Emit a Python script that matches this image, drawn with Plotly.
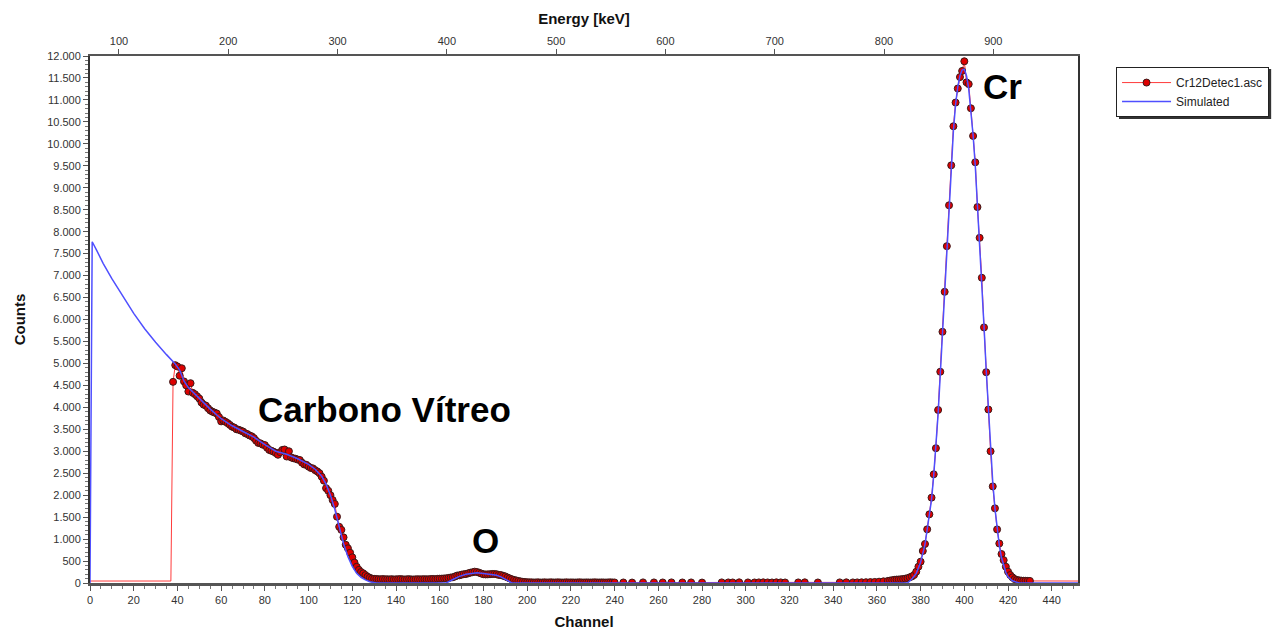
import plotly.graph_objects as go

# ---------------- data ----------------
# flat leading part of the measured spectrum (no markers drawn)
lead_channels = list(range(0, 39))
lead_counts = [45] * 38 + [4580]

# measured spectrum Cr12Detec1.asc (channels with drawn markers)
meas_channels = (
    list(range(38, 241))
    + [244, 248, 253, 258, 262, 266, 271, 275, 280, 289, 292, 294, 297, 301, 304, 306, 308,
       310, 312, 314, 316, 318, 324, 327, 333, 343, 346, 349, 351, 353, 355, 357, 359, 361, 363]
    + list(range(365, 431))
)
meas_counts = (
    # 38 - 130  (Carbono Vítreo)
    [4580, 4960, 4930, 4720, 4890, 4590, 4500, 4360, 4550, 4330,
     4300, 4250, 4200, 4110, 4060, 4040, 3980, 3930, 3900, 3880,
     3860, 3780, 3680, 3700, 3670, 3640, 3600, 3560, 3540, 3500,
     3490, 3470, 3450, 3410, 3390, 3360, 3340, 3300, 3240, 3190,
     3180, 3150, 3140, 3080, 3030, 3010, 2990, 2960, 2920, 2980,
     3030, 3040, 2880, 3000, 2860, 2840, 2830, 2810, 2800, 2740,
     2700, 2690, 2650, 2620, 2610, 2570, 2540, 2500, 2420, 2330,
     2160, 2100, 2000, 1890, 1800, 1510, 1280, 1210, 1040, 870,
     790, 690, 585, 465, 370, 300, 250, 220, 180, 145,
     120, 100, 95]
    # 131 - 162
    + [92, 88, 85, 90, 84, 86, 82, 88, 80, 84,
       86, 90, 83, 81, 85, 88, 82, 80, 84, 86,
       83, 85, 88, 84, 86, 90, 92, 88, 95, 98,
       100, 104]
    # 163 - 200  (O)
    + [106, 115, 125, 130, 150, 170, 175, 190, 200, 205,
       220, 235, 245, 258, 250, 235, 215, 200, 195, 197,
       200, 205, 205, 200, 185, 180, 165, 150, 125, 105,
       85, 70, 58, 46, 36, 28, 22, 18]
    # 201 - 240
    + [16, 15, 12, 14, 16, 11, 13, 15, 12, 14,
       16, 12, 13, 15, 14, 11, 13, 15, 12, 14,
       13, 11, 14, 15, 13, 12, 14, 13, 11, 14,
       15, 13, 12, 14, 13, 11, 14, 15, 13, 12]
    # sparse baseline 244 - 363
    + [12, 10, 14, 13, 12, 14, 12, 13, 10, 14, 13, 12, 15, 13, 12, 14, 15,
       13, 12, 15, 14, 12, 13, 15, 12, 14, 15, 13, 14, 16, 18, 20, 24, 30, 38]
    # 365 - 430  (Cr)
    + [48, 56, 64, 72, 78, 80, 85, 90, 99, 110,
       129, 150, 182, 258, 372, 486, 729, 888, 1222, 1564,
       1943, 2475, 3070, 3940, 4810, 5720, 6630, 7670, 8600, 9510,
       10400, 10940, 11260, 11520, 11660, 11880, 11400, 11360, 10810, 10180,
       9580, 8560, 7860, 6950, 5820, 4800, 3950, 3000, 2200, 1700,
       1220, 900, 660, 520, 372, 258, 182, 129, 90, 70,
       60, 55, 52, 50, 48, 47]
)

# trailing flat part of the measured spectrum (line only)
tail_channels = [430, 452]
tail_counts = [47, 45]

# simulated spectrum
sim_channels = [0, 1, 3, 6, 10, 15, 20, 25, 30, 35, 38, 39, 41, 43, 45, 48, 50, 55, 60, 65,
                70, 75, 80, 85, 90, 95, 100, 103, 106, 108, 110, 112, 114, 116, 118, 120,
                122, 124, 126, 128, 131, 163, 166, 169, 172, 175, 177, 180, 183, 186, 188,
                190, 192, 193, 374, 376, 378, 380, 382, 384, 385, 386, 387, 388, 389, 390,
                391, 392, 393, 394, 395, 396, 397, 398, 399, 400, 401, 402, 403, 404, 405,
                406, 407, 408, 409, 410, 411, 412, 413, 414, 415, 416, 417, 418, 419, 420,
                422, 425, 452]
sim_counts = [0, 7770, 7580, 7280, 6930, 6540, 6140, 5790, 5480, 5200, 5040, 4990, 4850,
              4600, 4450, 4300, 4200, 3960, 3740, 3580, 3450, 3320, 3150, 3000, 2930, 2830,
              2700, 2590, 2430, 2250, 2000, 1680, 1280, 900, 600, 380, 220, 130, 70, 30, 0,
              0, 80, 150, 200, 230, 235, 215, 195, 175, 140, 80, 20, 0,
              0, 90, 220, 470, 880, 1500, 1900, 2450, 3050, 3850, 4750, 5700, 6650, 7650,
              8600, 9500, 10300, 10900, 11300, 11550, 11680, 11700, 11550, 11250, 10800,
              10200, 9500, 8650, 7800, 6850, 5850, 4850, 3900, 3050, 2300, 1700, 1220, 850,
              580, 380, 240, 140, 50, 0, 0]

# axis settings
channel_range = [0, 452]
energy_range = [73.5, 977.5]   # keV, E = 73.5 + 2.0 * channel
count_range = [0, 12000]

FONT = "Liberation Sans, Arial, sans-serif"

fig = go.Figure()

fig.add_trace(go.Scatter(
    x=lead_channels, y=lead_counts, mode="lines",
    line=dict(color="#ff3b3b", width=1), showlegend=False, hoverinfo="skip"))
fig.add_trace(go.Scatter(
    x=tail_channels, y=tail_counts, mode="lines",
    line=dict(color="#ff3b3b", width=1), showlegend=False, hoverinfo="skip"))
fig.add_trace(go.Scatter(
    x=meas_channels, y=meas_counts, mode="lines+markers", name="Cr12Detec1.asc",
    line=dict(color="#ff3b3b", width=1),
    marker=dict(color="#dd0000", size=7, line=dict(color="#3a1a1a", width=1))))
fig.add_trace(go.Scatter(
    x=sim_channels, y=sim_counts, mode="lines", name="Simulated",
    line=dict(color="#4f4fff", width=1.5)))

tickfont = dict(family=FONT, size=11, color="#333333")

fig.update_layout(
    width=1279, height=632,
    margin=dict(l=90, r=201, t=56, b=49, pad=0, autoexpand=False),
    paper_bgcolor="white", plot_bgcolor="white",
    separators=",.",
    font=dict(family=FONT, color="#111111"),
    xaxis=dict(
        range=channel_range, dtick=20, tick0=0, automargin=False,
        ticks="outside", ticklen=5, tickcolor="#555555", tickwidth=1,
        minor=dict(dtick=5, ticks="outside", ticklen=3, tickcolor="#777777", showgrid=False),
        showgrid=False, zeroline=False,
        showline=True, linecolor="#555555", linewidth=3, mirror=False,
        tickfont=tickfont,
        title=dict(text="<b>Channel</b>", font=dict(family=FONT, size=15, color="#111111"), standoff=12),
    ),
    xaxis2=dict(
        range=energy_range, overlaying="x", side="top", anchor="y", automargin=False,
        dtick=100, tick0=0,
        ticks="outside", ticklen=5, tickcolor="#555555",
        showgrid=False, zeroline=False,
        showline=True, linecolor="#555555", linewidth=2,
        tickfont=tickfont,
        title=dict(text="<b>Energy [keV]</b>", font=dict(family=FONT, size=15, color="#111111"), standoff=6),
    ),
    yaxis=dict(
        range=count_range, dtick=500, tick0=0, tickformat=",d", automargin=False,
        ticks="outside", ticklen=5, tickcolor="#555555",
        minor=dict(dtick=100, ticks="outside", ticklen=3, tickcolor="#777777", showgrid=False),
        showgrid=False, zeroline=False,
        showline=True, linecolor="#333333", linewidth=2, mirror=True,
        tickfont=tickfont,
        title=dict(text="<b>Counts</b>", font=dict(family=FONT, size=15, color="#111111"), standoff=18),
    ),
    legend=dict(
        x=1.0385, y=0.979, xanchor="left", yanchor="top",
        bgcolor="white", bordercolor="#222222", borderwidth=1,
        font=dict(family=FONT, size=12, color="#222222"),
        tracegroupgap=0, itemwidth=49,
    ),
    showlegend=True,
)

# drop shadow behind the legend box
fig.add_shape(type="rect", xref="paper", yref="paper",
              x0=1.0415, x1=1.1955, y0=0.8805, y1=0.9755,
              fillcolor="#333333", line=dict(width=0), layer="below")

# invisible anchor trace for the top energy axis
fig.add_trace(go.Scatter(x=energy_range, y=[None, None], xaxis="x2", yaxis="y",
                         mode="lines", showlegend=False, hoverinfo="skip"))

ann_font = dict(family=FONT, size=35, color="black")
fig.add_annotation(x=134.5, y=3940, text="<b>Carbono Vítreo</b>", showarrow=False, font=ann_font)
fig.add_annotation(x=181, y=960, text="<b>O</b>", showarrow=False, font=ann_font)
fig.add_annotation(x=417.5, y=11300, text="<b>Cr</b>", showarrow=False, font=ann_font)

fig.write_html("out.html")
